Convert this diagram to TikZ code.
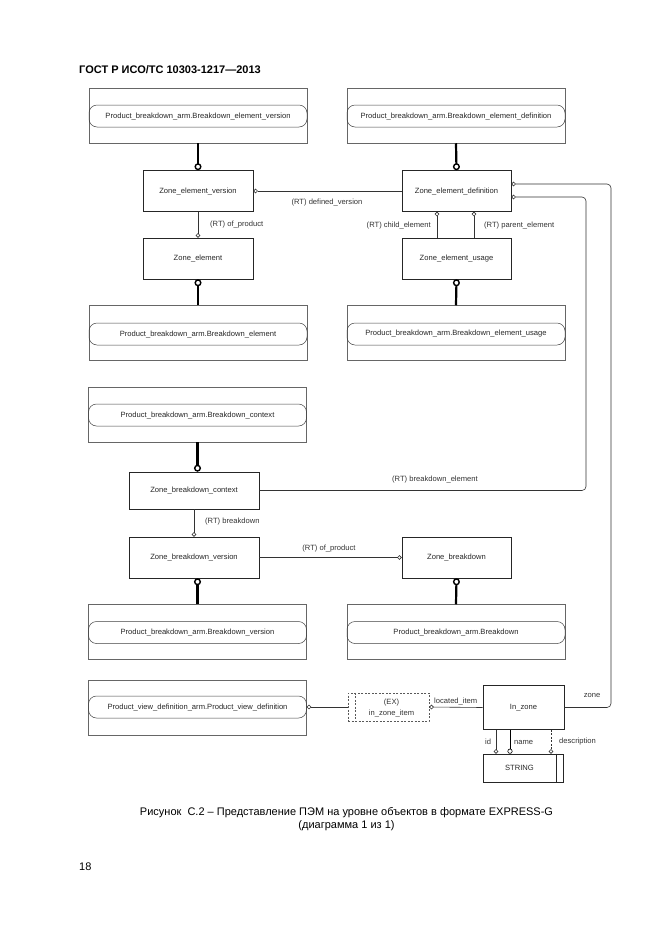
\documentclass[tikz,border=0pt]{standalone}
\usepackage{fontspec}
\setmainfont{Liberation Sans}
\usetikzlibrary{arrows.meta,calc}
\begin{document}
\begin{tikzpicture}[x=1pt,y=-1pt,
  dfont/.style={font=\fontsize{7.6}{9}\selectfont},
  lbl/.style={dfont, text=black!80, inner sep=0pt},
  ent/.style={draw=black!85, line width=0.6pt, minimum width=110pt, minimum height=41pt, inner sep=0pt, dfont, text=black!85},
  outerbox/.style={draw=black!60, line width=0.5pt, minimum width=218pt, minimum height=55pt, inner sep=0pt},
  pill/.style={draw=black!75, line width=0.5pt, rounded corners=8pt, minimum width=218pt, minimum height=22pt, inner sep=0pt, dfont, text=black!85},
  thk/.style={line width=2.2pt, -{Circle[open, length=7pt, width=7pt, line width=1.4pt]}},
  thn/.style={draw=black!80, line width=0.6pt, -{Circle[open, length=4.5pt, width=4.5pt]}},
  dsh/.style={draw=black!65, line width=0.5pt, dash pattern=on 2pt off 1.5pt}
]
\useasboundingbox (0,0) rectangle (661,935);

% header
\node[anchor=west, inner sep=0pt, font=\fontsize{11}{12}\selectfont\bfseries] (hdr) at (79,70) {ГОСТ Р ИСО/ТС 10303-1217—2013};

% outer boxes with pills
\node[outerbox] (b1) at (198,115.5) {};
\node[pill] (p1) at (198,116) {Product\_breakdown\_arm.Breakdown\_element\_version};
\node[outerbox] (b2) at (456,115.5) {};
\node[pill] (p2) at (456,116) {Product\_breakdown\_arm.Breakdown\_element\_definition};
\node[outerbox] (b3) at (198,333) {};
\node[pill] (p3) at (198,334) {Product\_breakdown\_arm.Breakdown\_element};
\node[outerbox] (b4) at (456,333) {};
\node[pill] (p4) at (456,334) {Product\_breakdown\_arm.Breakdown\_element\_usage};
\node[outerbox] (b5) at (197.5,414.5) {};
\node[pill] (p5) at (197.5,415) {Product\_breakdown\_arm.Breakdown\_context};
\node[outerbox] (b6) at (197.5,632) {};
\node[pill] (p6) at (197.5,632.5) {Product\_breakdown\_arm.Breakdown\_version};
\node[outerbox] (b7) at (456,632) {};
\node[pill] (p7) at (456,632.5) {Product\_breakdown\_arm.Breakdown};
\node[outerbox] (b8) at (197.5,707.5) {};
\node[pill] (p8) at (197.5,707) {Product\_view\_definition\_arm.Product\_view\_definition};

% entities
\node[ent] (zev) at (198,191) {Zone\_element\_version};
\node[ent, minimum width=109pt] (zed) at (456.5,191) {Zone\_element\_definition};
\node[ent] (ze) at (198,258.5) {Zone\_element};
\node[ent, minimum width=109pt] (zeu) at (456.5,258.5) {Zone\_element\_usage};
\node[ent, minimum width=130pt, minimum height=37pt] (zbc) at (194,490.5) {Zone\_breakdown\_context};
\node[ent, minimum width=130pt] (zbv) at (194,557.5) {Zone\_breakdown\_version};
\node[ent, minimum width=109pt] (zb) at (456.5,557.5) {Zone\_breakdown};
\node[ent, minimum width=81pt, minimum height=44pt] (inz) at (523.5,707.5) {In\_zone};
\node[draw=black!85, line width=0.6pt, minimum width=80pt, minimum height=28pt, inner sep=0pt] (str) at (523,768) {};
\draw[draw=black!85, line width=0.6pt] ([xshift=-7pt]str.north east) -- ([xshift=-7pt]str.south east);
\node[lbl, text=black!85] (strt) at (519.5,768) {STRING};

% EX box
\node[dsh, minimum width=81pt, minimum height=28pt, inner sep=0pt] (ex) at (388.5,707) {};
\draw[dsh] ([xshift=7.5pt]ex.north west) -- ([xshift=7.5pt]ex.south west);
\node[lbl, align=center, font=\fontsize{7.6}{10.5}\selectfont] (ext) at (391.5,708) {(EX)\\in\_zone\_item};

% thick connectors
\draw[thk] (b1.south) -- (zev.north);
\draw[thk] (b2.south) -- (zed.north);
\draw[thk] (b3.north) -- (ze.south);
\draw[thk] (b4.north) -- (zeu.south);
\draw[thk] (b5.south) -- (b5.south |- zbc.north);
\draw[thk] (b6.north) -- (b6.north |- zbv.south);
\draw[thk] (b7.north) -- (zb.south);

% thin connectors
\draw[thn] (zev.south) -- (ze.north);
\node[lbl, anchor=west] (l1) at (210,225) {(RT) of\_product};

\draw[thn] (zed.west) -- (zev.east);
\node[lbl] (l2) at (327,203) {(RT) defined\_version};

\coordinate (cx1) at (437,0);
\coordinate (cx2) at (474,0);
\draw[thn] (zeu.north -| cx1) -- (zed.south -| cx1);
\draw[thn] (zeu.north -| cx2) -- (zed.south -| cx2);
\node[lbl, anchor=east] (l3) at (431,226) {(RT) child\_element};
\node[lbl, anchor=west] (l4) at (484,226) {(RT) parent\_element};

\draw[thn] (zbc.south) -- (zbv.north);
\node[lbl, anchor=west] (l5) at (205,522) {(RT) breakdown};

\draw[thn] (zbv.east) -- (zb.west);
\node[lbl] (l6) at (329,549) {(RT) of\_product};

\coordinate (rz) at (611,0);
\coordinate (rb) at (586,0);
\coordinate (zd1) at ([yshift=7pt]zed.east);
\coordinate (zd2) at ([yshift=-6pt]zed.east);
\draw[thn, rounded corners=4pt] (zbc.east) -- (zbc.east -| rb) -- (zd2 -| rb) -- (zd2);
\node[lbl] (l7) at (435,480) {(RT) breakdown\_element};
\draw[thn, rounded corners=4pt] (inz.east) -- (inz.east -| rz) -- (zd1 -| rz) -- (zd1);
\node[lbl] (l8) at (592,695) {zone};

\draw[thn] (ex.west) -- (p8.east);
\draw[thn] (inz.west) -- (ex.east);
\node[lbl, anchor=west] (l9) at (434,701) {located\_item};

\coordinate (ci) at (496,0);
\coordinate (cn) at (510,0);
\coordinate (cd) at (551,0);
\draw[thn] (inz.south -| ci) -- (str.north -| ci);
\draw[thn, draw=black, line width=1pt, -{Circle[open, length=5pt, width=5pt, line width=0.6pt]}] (inz.south -| cn) -- (str.north -| cn);
\draw[thn, dash pattern=on 2pt off 1.5pt] (inz.south -| cd) -- (str.north -| cd);
\node[lbl, anchor=west] (l10) at (485,742) {id};
\node[lbl, anchor=west] (l11) at (514,742) {name};
\node[lbl, anchor=west] (l12) at (559,742) {description};

% caption
\node[inner sep=0pt, align=center, font=\fontsize{11}{12.5}\selectfont] (cap) at (346.5,819) {Рисунок\ \ С.2 – Представление ПЭМ на уровне объектов в формате EXPRESS-G\\(диаграмма 1 из 1)};
\node[anchor=west, inner sep=0pt, font=\fontsize{11}{12}\selectfont] (pg) at (79,867) {18};
\end{tikzpicture}
\end{document}
